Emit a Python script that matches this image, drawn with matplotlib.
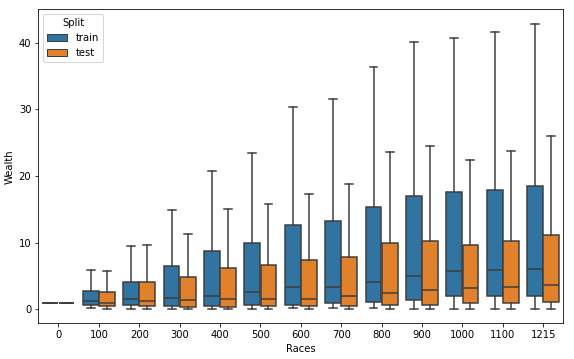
import numpy as np
import matplotlib
matplotlib.use("Agg")
import matplotlib.pyplot as plt
from matplotlib.patches import Patch

# Races categories and box statistics (Wealth)
races = ["0", "100", "200", "300", "400", "500", "600", "700", "800", "900", "1000", "1100", "1215"]

train_low = [1.0, 0.15, 0.1, 0.1, 0.1, 0.1, 0.15, 0.15, 0.15, 0.1, 0.1, 0.1, 0.1]
train_q1 = [1.0, 0.6, 0.6, 0.55, 0.55, 0.7, 0.7, 0.9, 1.15, 1.35, 2.0, 2.05, 2.05]
train_med = [1.0, 1.25, 1.5, 1.75, 2.05, 2.6, 3.3, 3.3, 4.05, 5.0, 5.75, 5.85, 6.05]
train_q3 = [1.0, 2.8, 4.15, 6.55, 8.7, 9.9, 12.65, 13.25, 15.3, 16.95, 17.55, 17.9, 18.5]
train_high = [1.0, 5.9, 9.5, 14.95, 20.75, 23.5, 30.3, 31.6, 36.3, 40.1, 40.75, 41.55, 42.8]

test_low = [1.0, 0.1, 0.1, 0.1, 0.1, 0.1, 0.1, 0.1, 0.1, 0.1, 0.1, 0.1, 0.1]
test_q1 = [1.0, 0.5, 0.5, 0.4, 0.4, 0.45, 0.45, 0.45, 0.6, 0.65, 0.9, 1.0, 1.1]
test_med = [1.0, 1.0, 1.3, 1.35, 1.5, 1.6, 1.6, 2.05, 2.4, 2.9, 3.15, 3.3, 3.6]
test_q3 = [1.0, 2.55, 4.05, 4.8, 6.25, 6.65, 7.35, 7.85, 9.95, 10.25, 9.65, 10.25, 11.15]
test_high = [1.0, 5.75, 9.65, 11.25, 15.05, 15.85, 17.3, 18.8, 23.65, 24.55, 22.45, 23.8, 25.95]

splits = ["train", "test"]
colors = ["#3274a1", "#e1812c"]
line_gray = "#3d3d3d"


def make_stats(low, q1, med, q3, high):
    return [dict(whislo=a, q1=b, med=c, q3=d, whishi=e, fliers=[])
            for a, b, c, d, e in zip(low, q1, med, q3, high)]


fig = plt.figure(figsize=(574 / 72, 359 / 72), dpi=72)
ax = fig.add_axes([0.0667, 0.0994, 0.9147, 0.8746])

x = np.arange(len(races))
groups = [make_stats(train_low, train_q1, train_med, train_q3, train_high),
          make_stats(test_low, test_q1, test_med, test_q3, test_high)]

for i, (stats, col) in enumerate(zip(groups, colors)):
    offset = -0.2 + 0.4 * i
    ax.bxp(stats, positions=x + offset, widths=0.392, patch_artist=True,
           showfliers=False, manage_ticks=False,
           boxprops=dict(facecolor=col, edgecolor=line_gray, linewidth=1.5),
           medianprops=dict(color=line_gray, linewidth=1.5),
           whiskerprops=dict(color=line_gray, linewidth=1.5),
           capprops=dict(color=line_gray, linewidth=1.5))

ax.set_xticks(x)
ax.set_xticklabels(races)
ax.set_xlim(-0.5, len(races) - 0.5)
ax.set_ylim(-2.1, 45.0)
ax.set_yticks([0, 10, 20, 30, 40])
ax.set_xlabel("Races")
ax.set_ylabel("Wealth")

handles = [Patch(facecolor=c, edgecolor=line_gray, label=s) for s, c in zip(splits, colors)]
ax.legend(handles=handles, title="Split", loc="upper left")

fig.savefig("out.png", dpi=72)
